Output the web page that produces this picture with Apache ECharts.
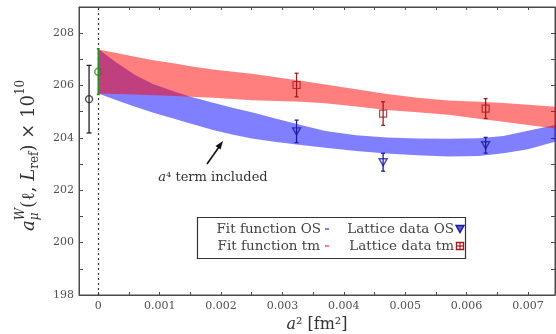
<!DOCTYPE html>
<html><head><meta charset="utf-8">
<script src="https://cdn.jsdelivr.net/npm/echarts@6/dist/echarts.min.js"></script>
<style>html,body{margin:0;padding:0;background:#fff}#c{width:556px;height:334px}</style>
</head><body><div id="c"></div>
<script>
// ---- data ----
const bandX = [0, 0.0003, 0.0006, 0.0009, 0.00125, 0.0015, 0.00187, 0.0022, 0.0025, 0.0029, 0.0033, 0.0037, 0.0042, 0.0047, 0.0052, 0.0057, 0.0062, 0.0066, 0.007, 0.00744];
const osHi  = [207.40, 206.87, 206.40, 206.05, 205.76, 205.57, 205.34, 205.14, 204.98, 204.73, 204.49, 204.26, 204.10, 204.02, 203.98, 203.97, 203.99, 204.07, 204.27, 204.49];
const osLo  = [205.70, 205.44, 205.19, 204.96, 204.72, 204.55, 204.30, 204.12, 203.98, 203.84, 203.73, 203.62, 203.50, 203.40, 203.34, 203.29, 203.31, 203.41, 203.57, 203.85];
const tmHi  = [207.38, 207.24, 207.10, 206.97, 206.84, 206.74, 206.61, 206.53, 206.45, 206.32, 206.18, 206.04, 205.86, 205.68, 205.53, 205.43, 205.38, 205.33, 205.27, 205.19];
const tmLo  = [205.70, 205.68, 205.66, 205.63, 205.60, 205.57, 205.53, 205.49, 205.44, 205.41, 205.38, 205.32, 205.20, 205.07, 204.98, 204.88, 204.73, 204.62, 204.49, 204.36];

const latX  = [0.00323, 0.00464, 0.00631];
const osY   = [204.25, 203.07, 203.72];
const osErr = [0.43, 0.34, 0.30];
const tmY   = [206.02, 204.93, 205.12];
const tmErr = [0.45, 0.45, 0.38];

const refX = [-0.00015]; const refY = [205.48]; const refErr = [1.29];
const contX = [0]; const contY = [206.53]; const contErr = [0.87];

const xTickVals  = [0, 0.0005, 0.001, 0.0015, 0.002, 0.0025, 0.003, 0.0035, 0.004, 0.0045, 0.005, 0.0055, 0.006, 0.0065, 0.007];
const xLabelVals = [0, 0.001, 0.002, 0.003, 0.004, 0.005, 0.006, 0.007];
const xLabelText = ['0', '0.001', '0.002', '0.003', '0.004', '0.005', '0.006', '0.007'];
const yTickVals  = [198, 199, 200, 201, 202, 203, 204, 205, 206, 207, 208];
const yLabelVals = [198, 200, 202, 204, 206, 208];
const yLabelText = ['198', '200', '202', '204', '206', '208'];

// ---- chart ----
const FONT = 'DejaVu Serif';
const AX = '#4a4a4a';
const TXT = '#505050';
const xMin = -0.000314, xMax = 0.00744;

function bandSeries(name, lo, hi, fill) {
  return {
    type: 'custom', name, z: 2, clip: true,
    data: bandX.map((x, i) => [x, lo[i], hi[i]]),
    encode: { x: 0, y: [1, 2] },
    renderItem: (p, api) => {
      if (p.dataIndex !== 0) return;
      const pts = [];
      for (let i = 0; i < bandX.length; i++) pts.push(api.coord([bandX[i], hi[i]]));
      for (let i = bandX.length - 1; i >= 0; i--) pts.push(api.coord([bandX[i], lo[i]]));
      return { type: 'polygon', shape: { points: pts }, style: { fill } };
    }
  };
}
function errSeries(name, xs, ys, es, color, cap, lw) {
  return {
    type: 'custom', name, z: 5,
    data: xs.map((x, i) => [x, ys[i] - es[i], ys[i] + es[i]]),
    encode: { x: 0, y: [1, 2] },
    renderItem: (p, api) => {
      const a = api.coord([api.value(0), api.value(1)]);
      const b = api.coord([api.value(0), api.value(2)]);
      const st = { stroke: color, lineWidth: lw };
      return { type: 'group', children: [
        { type: 'line', shape: { x1: a[0], y1: a[1], x2: b[0], y2: b[1] }, style: st },
        { type: 'line', shape: { x1: a[0] - cap, y1: a[1], x2: a[0] + cap, y2: a[1] }, style: st },
        { type: 'line', shape: { x1: b[0] - cap, y1: b[1], x2: b[0] + cap, y2: b[1] }, style: st }
      ]};
    }
  };
}
function pts(xs, ys) { return xs.map((x, i) => [x, ys[i]]); }

// y-axis title built from measured pieces
const mctx = document.createElement('canvas').getContext('2d');
function mw(t, font) { mctx.font = font; return mctx.measureText(t).width; }
const B = 18, S = 12;
const pieces = [
  { t: 'a', it: true, sz: B, dy: 0 },
  { t: 'W', it: true, sz: S, dy: -8, stack: true },
  { t: 'μ', it: true, sz: S, dy: 6 },
  { t: '(ℓ, ', it: false, sz: B, dy: 0 },
  { t: 'L', it: true, sz: B, dy: 0 },
  { t: 'ref', it: false, sz: S, dy: 6 },
  { t: ') × 10', it: false, sz: B, dy: 0 },
  { t: '10', it: false, sz: S, dy: -8 }
];
const titleChildren = [];
let cx = 0, stackW = 0;
pieces.forEach(pc => {
  const font = (pc.it ? 'italic ' : '') + pc.sz + 'px "' + FONT + '"';
  const wd = mw(pc.t, font);
  titleChildren.push({ type: 'text', x: cx, y: pc.dy, style: { text: pc.t, font, fill: '#333', align: 'left', verticalAlign: 'middle' } });
  if (pc.stack) { stackW = wd; } else { cx += Math.max(wd, stackW); stackW = 0; }
});
const titleLen = cx;
const LF = '13.5px "' + FONT + '"';

const chart = echarts.init(document.getElementById('c'));
const option = {
  animation: false,
  grid: { left: 79, right: 1, top: 7, bottom: 39, show: true, borderColor: AX, borderWidth: 1, outerBoundsMode: 'none', containLabel: false },
  xAxis: [{
    type: 'value', min: xMin, max: xMax, position: 'bottom',
    axisLine: { show: true, onZero: false, lineStyle: { color: AX } },
    axisTick: { show: true, inside: true, length: 3, customValues: xTickVals, lineStyle: { color: AX } },
    axisLabel: { customValues: xLabelVals, formatter: v => xLabelText[xLabelVals.indexOf(v)] || '', fontFamily: FONT, fontSize: 11, color: TXT, margin: 6 },
    splitLine: { show: false },
    name: '{i|a}{n|² [fm²]}', nameLocation: 'middle', nameGap: 22,
    nameTextStyle: { rich: { i: { fontFamily: FONT, fontStyle: 'italic', fontSize: 16, color: '#333' }, n: { fontFamily: FONT, fontSize: 16, color: '#333' } } }
  }, {
    type: 'value', min: xMin, max: xMax, position: 'top',
    axisLine: { show: true, onZero: false, lineStyle: { color: AX } },
    axisTick: { show: true, inside: true, length: 3, customValues: xTickVals, lineStyle: { color: AX } },
    axisLabel: { show: false }, splitLine: { show: false }
  }],
  yAxis: [{
    type: 'value', min: 198, max: 209, position: 'left',
    axisLine: { show: true, onZero: false, lineStyle: { color: AX } },
    axisTick: { show: true, inside: true, length: 4, customValues: yTickVals, lineStyle: { color: AX } },
    axisLabel: { customValues: yLabelVals, formatter: v => yLabelText[yLabelVals.indexOf(v)] || '', fontFamily: FONT, fontSize: 11, color: TXT, margin: 5 },
    splitLine: { show: false }
  }, {
    type: 'value', min: 198, max: 209, position: 'right',
    axisLine: { show: true, onZero: false, lineStyle: { color: AX } },
    axisTick: { show: true, inside: true, length: 4, customValues: yTickVals, lineStyle: { color: AX } },
    axisLabel: { show: false }, splitLine: { show: false }
  }],
  series: [
    bandSeries('Fit function OS', osLo, osHi, 'rgba(0,0,255,0.5)'),
    bandSeries('Fit function tm', tmLo, tmHi, 'rgba(255,0,0,0.5)'),
    errSeries('err OS', latX, osY, osErr, '#1c1ca0', 2, 1.3),
    errSeries('err tm', latX, tmY, tmErr, '#a51c1c', 2, 1.3),
    errSeries('err ref', refX, refY, refErr, '#222', 2.5, 1.3),
    errSeries('err cont', contX, contY, contErr, '#2a8a2a', 1.5, 1.5),
    { type: 'scatter', name: 'Lattice data OS', z: 6, data: pts(latX, osY), symbol: 'path://M0,0L10,0L5,9Z', symbolSize: [8, 7],
      itemStyle: { color: 'rgba(255,255,255,0)', borderColor: '#1c1ca0', borderWidth: 1.4 } },
    { type: 'scatter', name: 'Lattice data tm', z: 6, data: pts(latX, tmY), symbol: 'rect', symbolSize: 7,
      itemStyle: { color: 'rgba(255,255,255,0)', borderColor: '#a51c1c', borderWidth: 1.2 } },
    { type: 'scatter', name: 'ref', z: 6, data: pts(refX, refY), symbol: 'circle', symbolSize: 7,
      itemStyle: { color: 'rgba(255,255,255,0)', borderColor: '#222', borderWidth: 1.3 } },
    { type: 'scatter', name: 'cont', z: 6, data: pts(contX, contY), symbol: 'circle', symbolSize: 7,
      itemStyle: { color: 'rgba(255,255,255,0)', borderColor: '#2a8a2a', borderWidth: 1.5 },
      markLine: { silent: true, symbol: 'none', label: { show: false }, z: 1,
        lineStyle: { type: [2, 3], color: '#333', width: 1.2 }, data: [{ xAxis: 0 }] } }
  ],
  graphic: [
    { type: 'group', x: 29, y: 230 - (titleLen - 153) / 2, rotation: Math.PI / 2, children: titleChildren },
    { type: 'text', x: 213, y: 178, z: 10, style: { text: '{i|a}{n|⁴ term included}', align: 'center', verticalAlign: 'middle',
        rich: { i: { fontFamily: FONT, fontStyle: 'italic', fontSize: 13, fill: '#333' }, n: { fontFamily: FONT, fontSize: 13, fill: '#333' } } } },
    { type: 'line', z: 10, shape: { x1: 207, y1: 164, x2: 219, y2: 147 }, style: { stroke: '#111', lineWidth: 1.6 } },
    { type: 'polygon', z: 10, shape: { points: [[223, 141], [215.5, 146], [220.5, 149.5]] }, style: { fill: '#111' } },
    { type: 'rect', z: 10, shape: { x: 197.5, y: 217.5, width: 268, height: 41 }, style: { fill: '#fff', stroke: '#333', lineWidth: 1.2 } },
    { type: 'text', z: 11, x: 321, y: 229, style: { text: 'Fit function OS', font: LF, fill: '#444', align: 'right', verticalAlign: 'middle' } },
    { type: 'text', z: 11, x: 320, y: 246, style: { text: 'Fit function tm', font: LF, fill: '#444', align: 'right', verticalAlign: 'middle' } },
    { type: 'text', z: 11, x: 454, y: 229, style: { text: 'Lattice data OS', font: LF, fill: '#444', align: 'right', verticalAlign: 'middle' } },
    { type: 'text', z: 11, x: 454, y: 246, style: { text: 'Lattice data tm', font: LF, fill: '#444', align: 'right', verticalAlign: 'middle' } },
    { type: 'rect', z: 11, shape: { x: 325, y: 228, width: 4, height: 2 }, style: { fill: 'rgba(0,0,255,0.5)' } },
    { type: 'rect', z: 11, shape: { x: 325, y: 245, width: 4, height: 2 }, style: { fill: 'rgba(255,0,0,0.5)' } },
    { type: 'polygon', z: 11, shape: { points: [[456, 225.5], [464, 225.5], [460, 232.5]] }, style: { fill: '#5a5ad0', stroke: '#1c1ca0', lineWidth: 1.4 } },
    { type: 'rect', z: 11, shape: { x: 456.5, y: 242.5, width: 7, height: 7 }, style: { fill: 'rgba(255,255,255,0)', stroke: '#a51c1c', lineWidth: 1.4 } },
    { type: 'line', z: 11, shape: { x1: 460, y1: 242, x2: 460, y2: 250 }, style: { stroke: '#a51c1c', lineWidth: 1.2 } },
    { type: 'line', z: 11, shape: { x1: 456.5, y1: 246, x2: 463.5, y2: 246 }, style: { stroke: '#a51c1c', lineWidth: 1.2 } }
  ]
};
chart.setOption(option);
</script>
</body></html>
